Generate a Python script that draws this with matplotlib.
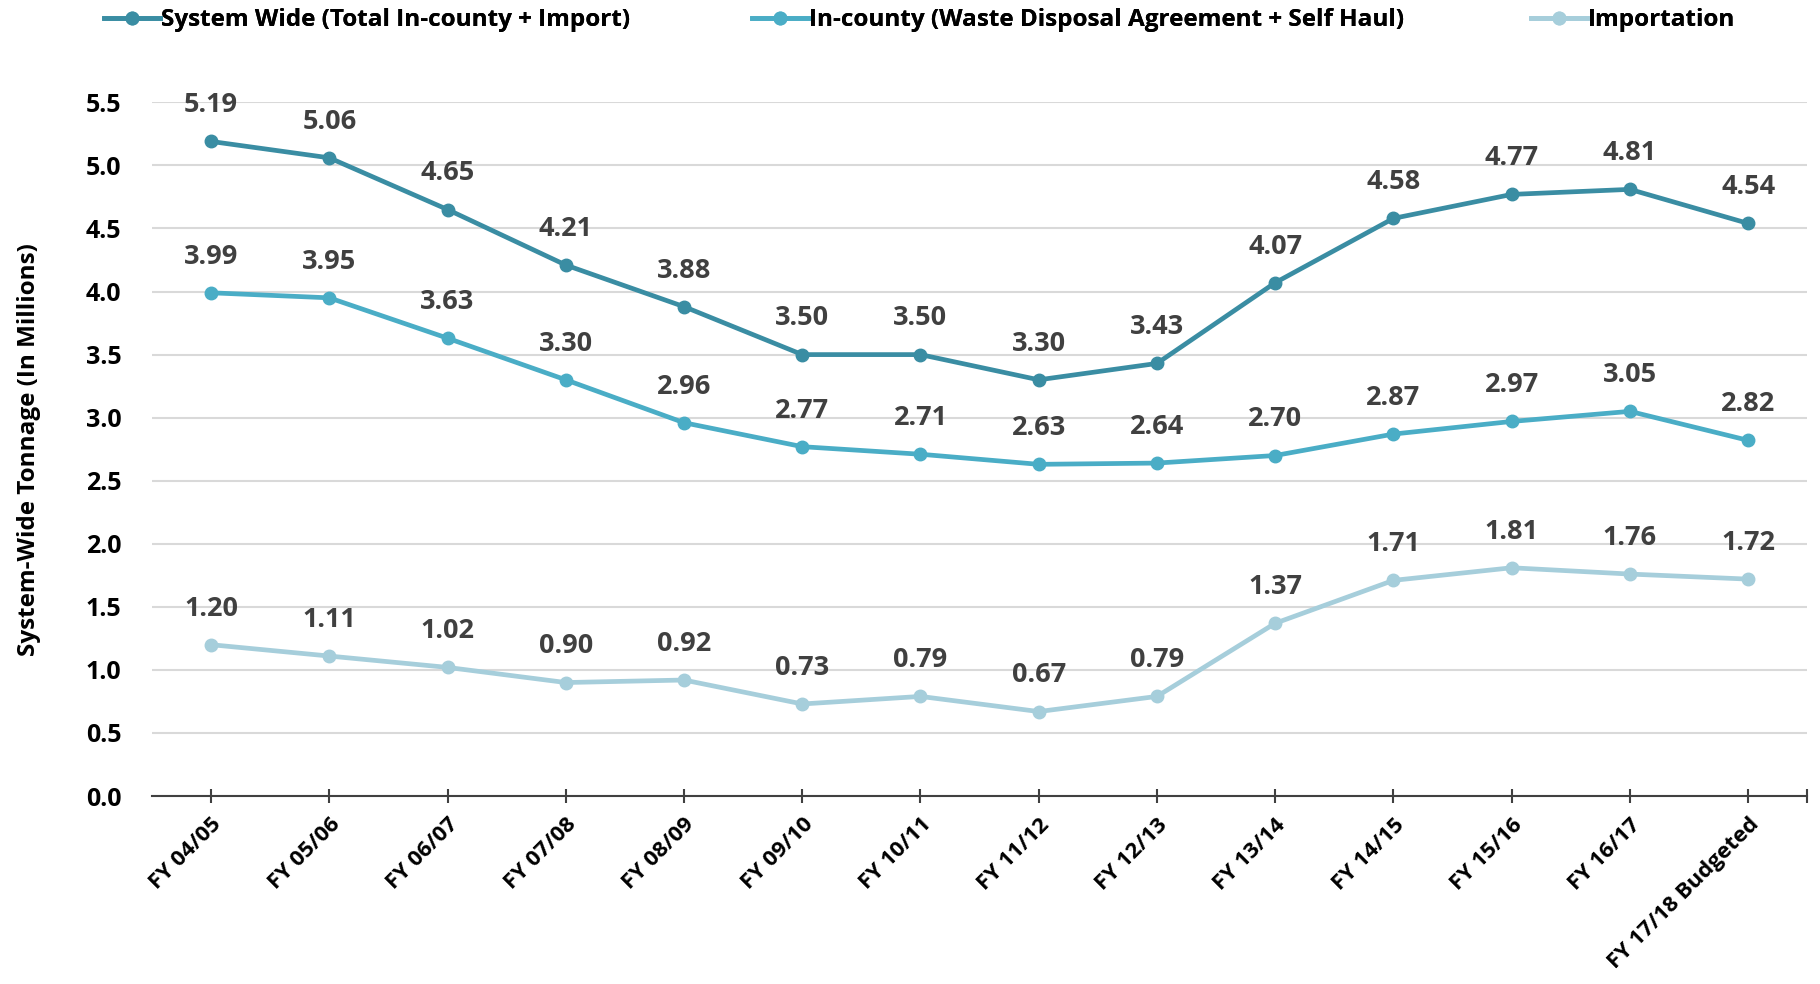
import matplotlib
matplotlib.use('Agg')
import matplotlib.pyplot as plt
from matplotlib.lines import Line2D
import numpy as np

years = ['FY 04/05', 'FY 05/06', 'FY 06/07', 'FY 07/08', 'FY 08/09', 'FY 09/10', 'FY 10/11',
         'FY 11/12', 'FY 12/13', 'FY 13/14', 'FY 14/15', 'FY 15/16', 'FY 16/17', 'FY 17/18 Budgeted']
system_wide = [5.19, 5.06, 4.65, 4.21, 3.88, 3.50, 3.50, 3.30, 3.43, 4.07, 4.58, 4.77, 4.81, 4.54]
in_county = [3.99, 3.95, 3.63, 3.30, 2.96, 2.77, 2.71, 2.63, 2.64, 2.70, 2.87, 2.97, 3.05, 2.82]
importation = [1.20, 1.11, 1.02, 0.90, 0.92, 0.73, 0.79, 0.67, 0.79, 1.37, 1.71, 1.81, 1.76, 1.72]

names = ['System Wide (Total In-county + Import)',
         'In-county (Waste Disposal Agreement + Self Haul)',
         'Importation']
colors = ['#3A8DA3', '#4AADC6', '#A6CEDB']

plt.rcParams['font.family'] = ['Open Sans', 'DejaVu Sans']
plt.rcParams['font.weight'] = 'bold'

fig = plt.figure(figsize=(18.2, 9.84), dpi=100)
ax = fig.add_axes([0.0835, 0.191, 0.9095, 0.705])

x = np.arange(len(years))
for vals, c in zip([system_wide, in_county, importation], colors):
    ax.plot(x, vals, color=c, lw=3.4, marker='o', ms=9, zorder=3)
    for xi, v in zip(x, vals):
        ax.annotate('%.2f' % v, (xi, v), xytext=(0, 26), textcoords='offset points',
                    ha='center', va='center', fontsize=19.5, color='#404040', fontweight='bold')

ax.set_xlim(-0.5, len(years) - 0.5)
ax.set_ylim(0, 5.5)
ax.set_yticks(np.arange(0, 5.51, 0.5))
ax.set_yticklabels(['%.1f' % t for t in np.arange(0, 5.51, 0.5)], fontsize=18, fontweight='bold')
ax.set_xticks(x)
ax.set_xticks([len(years) - 0.5], minor=True)
ax.set_xticklabels(years, rotation=45, ha='right', rotation_mode='anchor', fontsize=16, fontweight='bold')
ax.tick_params(axis='x', which='both', direction='inout', length=10, width=1.5, color='#404040', pad=8)
ax.tick_params(axis='y', length=0, pad=22)
ax.grid(axis='y', color='#D9D9D9', lw=1.5)
ax.set_axisbelow(True)
for s in ['left', 'right', 'top']:
    ax.spines[s].set_visible(False)
ax.spines['bottom'].set_color('#404040')
ax.spines['bottom'].set_linewidth(1.5)
ax.set_ylabel('System-Wide Tonnage (In Millions)', fontsize=17.5, fontweight='bold', labelpad=32)

# legend, one box per entry like the original
leg_x = [0.045, 0.401, 0.829]
for name, c, lx in zip(names, colors, leg_x):
    h = Line2D([], [], color=c, lw=3.4, marker='o', ms=9)
    lg = fig.legend([h], [name], loc='upper left', bbox_to_anchor=(lx, 1.014), frameon=False,
                    prop={'size': 17.5, 'weight': 'bold'}, handlelength=2.3, handletextpad=0.05)
    fig.add_artist(lg)

fig.savefig('out.png', dpi=100)
